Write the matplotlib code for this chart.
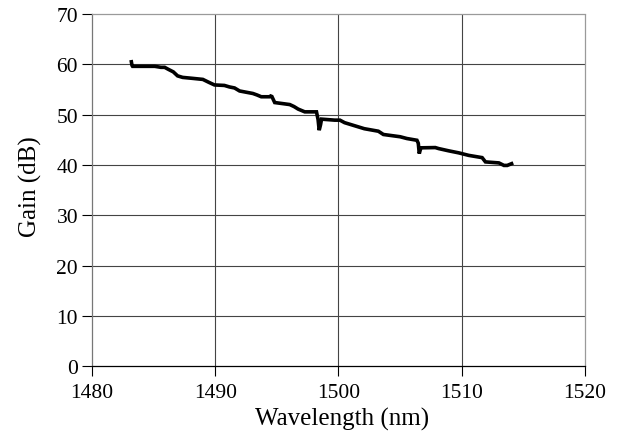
import matplotlib
matplotlib.use("Agg")
import matplotlib.pyplot as plt

# Measured gain spectrum (staircase trace with two narrow dips)
wavelength_nm = [
    1483.2, 1483.25, 1483.3, 1484.5, 1485.1, 1485.6, 1485.9, 1486.2, 1486.6,
    1486.95, 1487.36, 1488.2, 1489.0, 1489.5, 1489.94, 1490.75, 1491.16,
    1491.57, 1491.98, 1493.06, 1493.4, 1493.74, 1494.42, 1494.5, 1494.6,
    1494.83, 1496.05, 1496.4, 1496.73, 1497.27, 1498.22, 1498.35, 1498.44,
    1498.55, 1498.63, 1499.7, 1500.12, 1500.5, 1501.3, 1502.1, 1503.24,
    1503.65, 1505.01, 1505.55, 1506.37, 1506.48, 1506.56, 1506.64, 1506.72,
    1507.86, 1508.13, 1508.95, 1509.76, 1510.57, 1511.66, 1511.93, 1513.02,
    1513.43, 1513.7, 1514.05,
]
gain_db = [
    60.5, 59.8, 59.6, 59.6, 59.6, 59.4, 59.4, 59.0, 58.5,
    57.7, 57.4, 57.2, 57.0, 56.4, 55.9, 55.8, 55.5,
    55.3, 54.7, 54.2, 53.9, 53.55, 53.55, 53.7, 53.6,
    52.4, 52.0, 51.6, 51.1, 50.55, 50.55, 49.0, 46.9,
    48.0, 49.1, 48.9, 48.9, 48.4, 47.8, 47.2, 46.7,
    46.05, 45.6, 45.25, 44.9, 44.3, 42.25, 43.0, 43.4,
    43.45, 43.25, 42.8, 42.4, 41.9, 41.45, 40.6, 40.4,
    39.9, 39.9, 40.25,
]

x_ticks = [1480, 1490, 1500, 1510, 1520]
y_ticks = [0, 10, 20, 30, 40, 50, 60, 70]

plt.rcParams["font.family"] = ["Liberation Serif", "DejaVu Serif"]

fig = plt.figure(figsize=(6.17, 4.35), dpi=100)
ax = fig.add_axes([0.149, 0.156, 0.799, 0.8095])

# interior grid lines only; the frame edges carry their own style
for xv in x_ticks[1:-1]:
    ax.axvline(xv, color="#444444", linewidth=0.8, zorder=1)
for yv in y_ticks[1:-1]:
    ax.axhline(yv, color="#444444", linewidth=0.8, zorder=1)

ax.plot(wavelength_nm, gain_db, color="black", linewidth=2.6,
        solid_joinstyle="miter", zorder=3)

ax.set_xlim(1480, 1520)
ax.set_ylim(0, 70)
ax.set_xticks(x_ticks)
ax.set_yticks(y_ticks)
ax.tick_params(axis="both", direction="out", length=7, width=0.8,
               labelsize=15.5, color="black")
ax.tick_params(axis="x", pad=5)
ax.tick_params(axis="y", pad=3)

for side in ("top", "right"):
    ax.spines[side].set_color("#9a9a9a")
    ax.spines[side].set_linestyle((0, (1, 1)))
    ax.spines[side].set_linewidth(0.9)
ax.spines["left"].set_color("#777777")
ax.spines["left"].set_linewidth(0.9)
ax.spines["bottom"].set_color("black")
ax.spines["bottom"].set_linewidth(0.9)

ax.set_xlabel("Wavelength (nm)", fontsize=18, labelpad=4)
ax.xaxis.label.set_x(0.507)
ax.set_ylabel("Gain (dB)", fontsize=18)
ax.yaxis.set_label_coords(-0.101, 0.514)

fig.savefig("out.png", dpi=100)
